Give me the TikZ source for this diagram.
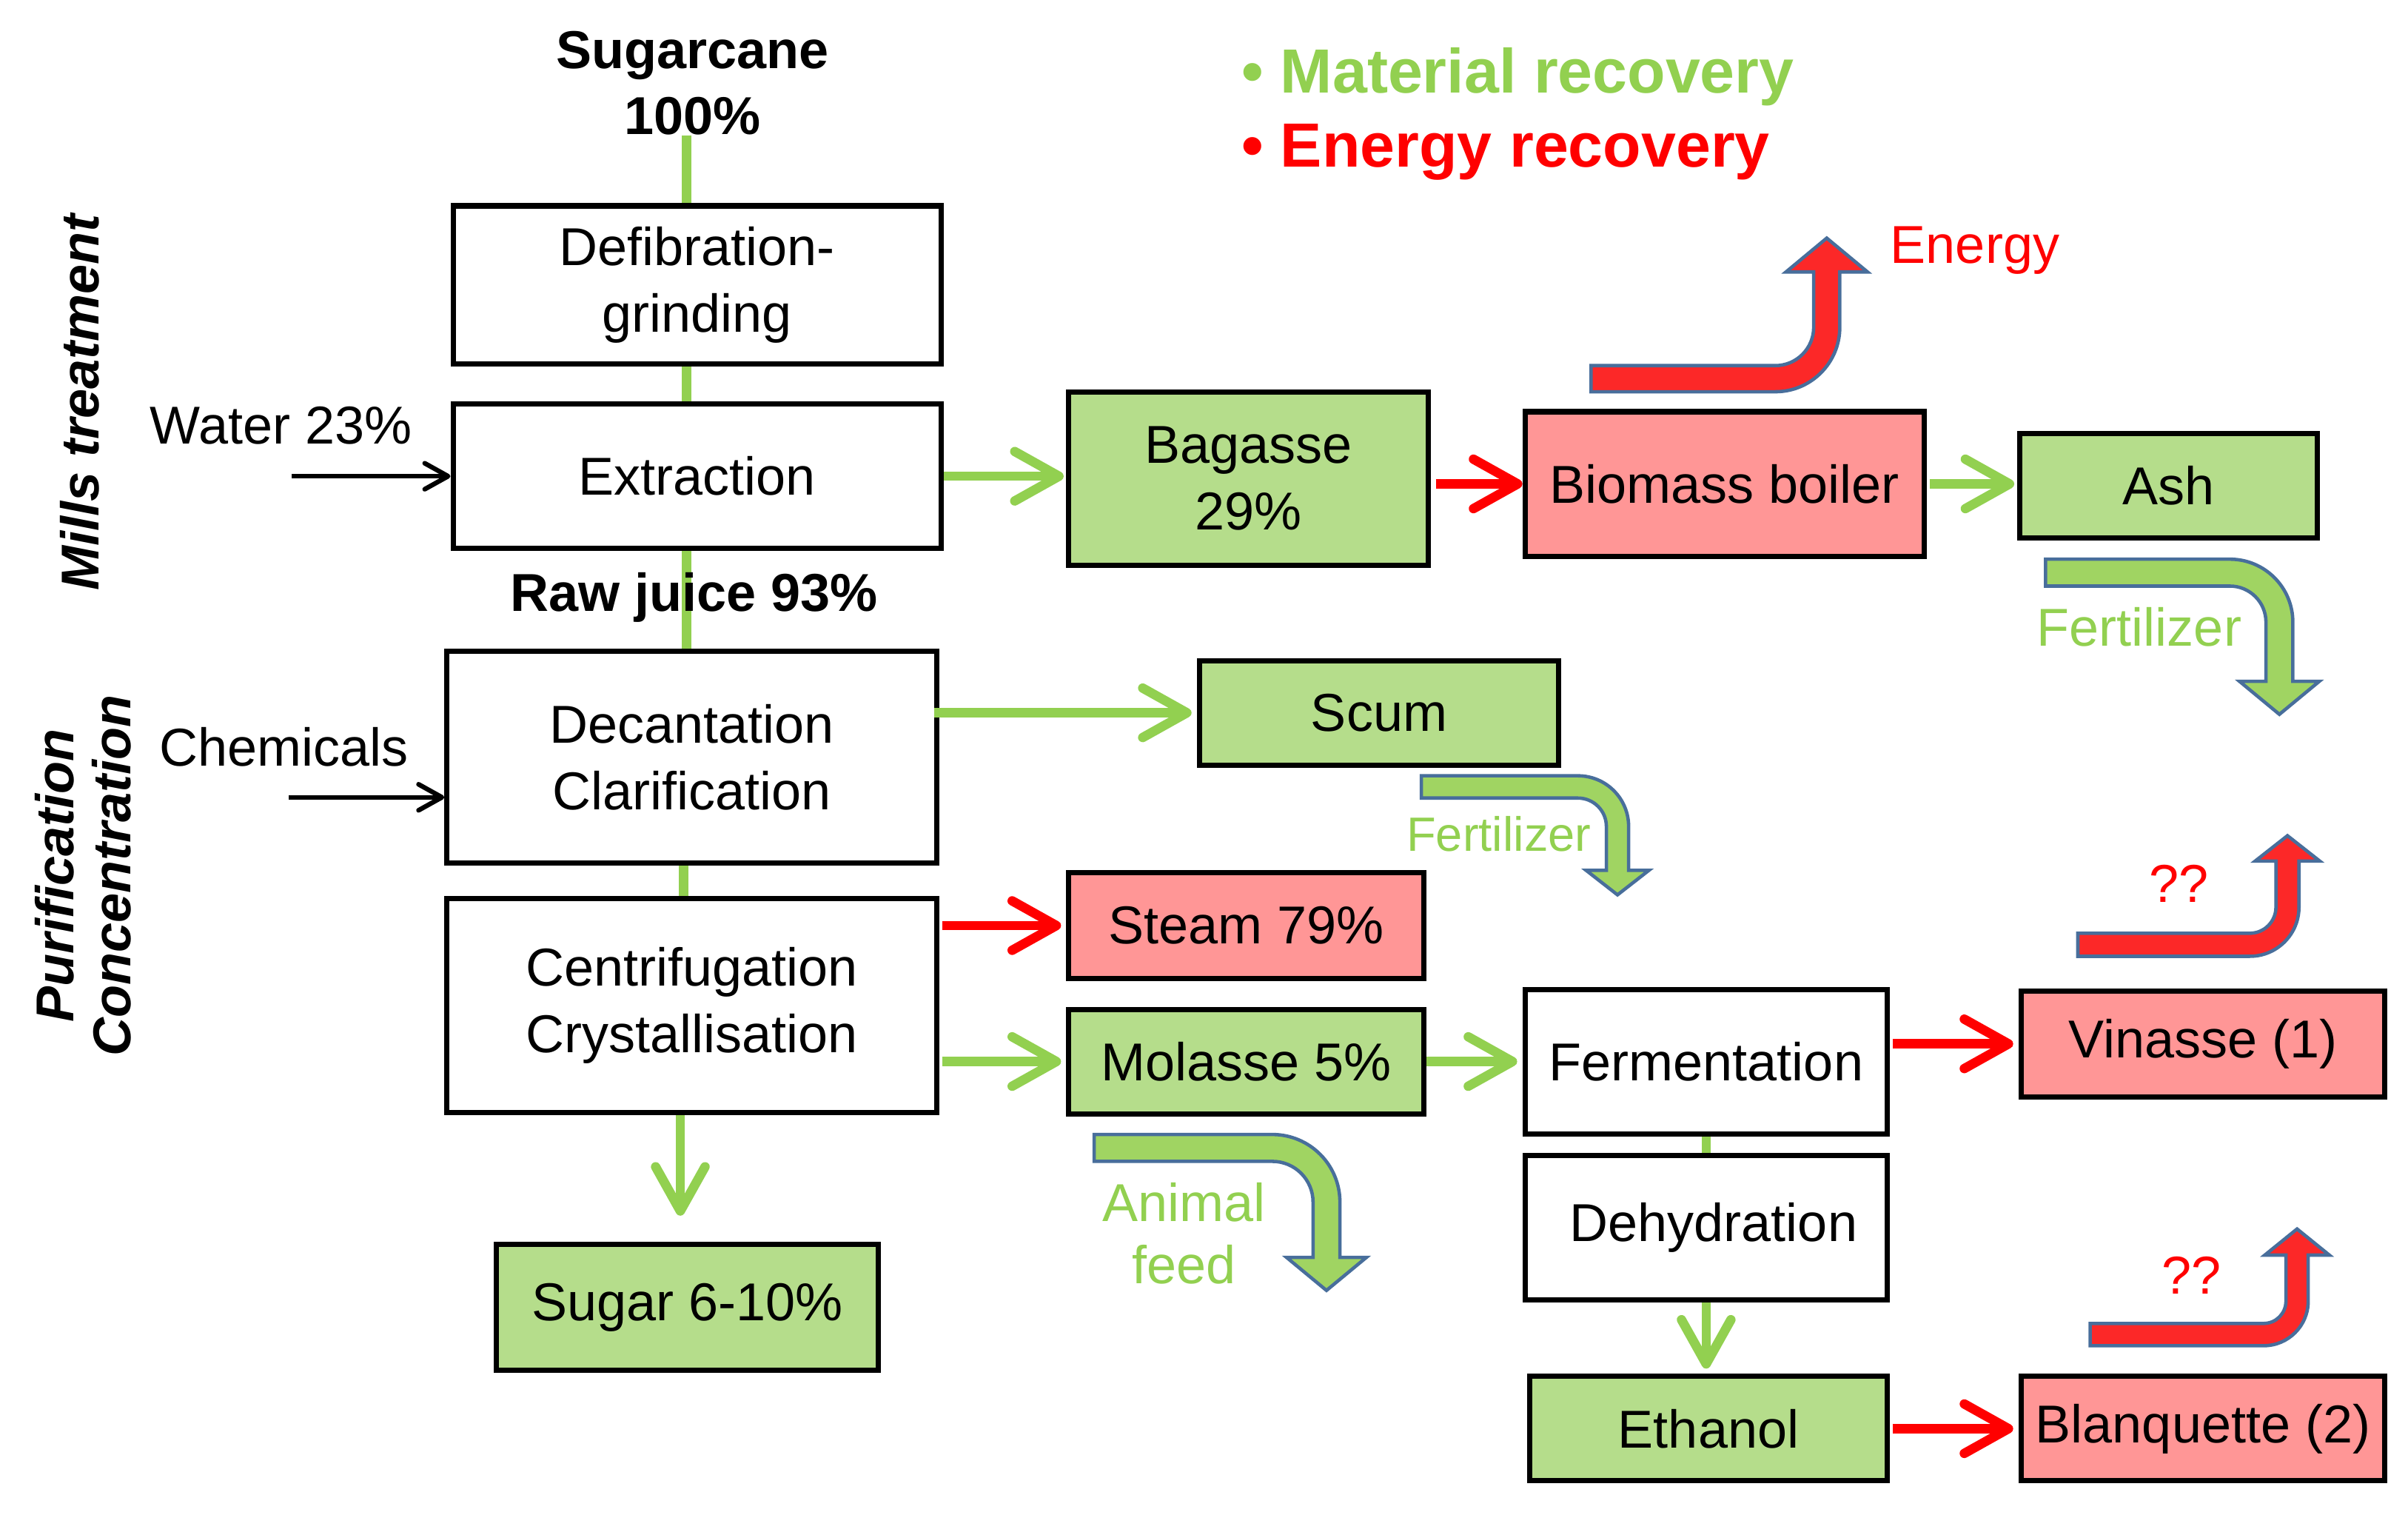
\documentclass[tikz,border=0pt]{standalone}
\usepackage{fontspec}
\setmainfont{Liberation Sans}
\usetikzlibrary{arrows.meta}
\definecolor{boxgreen}{RGB}{181,221,139}
\definecolor{boxred}{RGB}{255,150,150}
\definecolor{lgreen}{RGB}{146,208,80}
\definecolor{bgreen}{RGB}{160,212,98}
\definecolor{bred}{RGB}{252,40,40}
\definecolor{bblue}{RGB}{72,110,155}
\definecolor{pred}{RGB}{255,0,0}

% box from corners: name, style, x1, y1, x2, y2, text
\newcommand{\bx}[7]{%
  \node[#2, minimum width={(#5-#3)*0.020746cm}, minimum height={(#6-#4)*0.020746cm}]
    (#1) at ({(#3+#5)/2},{(#4+#6)/2}) {#7};}
% bent arrow turning up: x0, ybot, thickness, x outer, radius, ytip, head half width, head length, style
\newcommand{\bentup}[9]{%
  \draw[#9] (#1,#2) -- ({#4-#5},#2)
    .. controls ({#4-#5+0.5523*#5},#2) and (#4,{#2-#5+0.5523*#5}) .. (#4,{#2-#5})
    -- (#4,{#6+#8}) -- ({#4-#3/2+#7},{#6+#8}) -- ({#4-#3/2},#6)
    -- ({#4-#3/2-#7},{#6+#8}) -- ({#4-#3},{#6+#8}) -- ({#4-#3},{#2-#5})
    .. controls ({#4-#3},{#2-#5+0.5523*(#5-#3)}) and ({#4-#5+0.5523*(#5-#3)},{#2-#3}) .. ({#4-#5},{#2-#3})
    -- (#1,{#2-#3}) -- cycle;}
% bent arrow turning down: x0, ytop, thickness, x outer, radius, ytip, head half width, head length, style
\newcommand{\bentdown}[9]{%
  \draw[#9] (#1,#2) -- ({#4-#5},#2)
    .. controls ({#4-#5+0.5523*#5},#2) and (#4,{#2+#5-0.5523*#5}) .. (#4,{#2+#5})
    -- (#4,{#6-#8}) -- ({#4-#3/2+#7},{#6-#8}) -- ({#4-#3/2},#6)
    -- ({#4-#3/2-#7},{#6-#8}) -- ({#4-#3},{#6-#8}) -- ({#4-#3},{#2+#5})
    .. controls ({#4-#3},{#2+#5-0.5523*(#5-#3)}) and ({#4-#5+0.5523*(#5-#3)},{#2+#3}) .. ({#4-#5},{#2+#3})
    -- (#1,{#2+#3}) -- cycle;}

\begin{document}
\begin{tikzpicture}[x=0.020746cm, y=-0.020746cm,
  box/.style={draw, line width=2pt, inner sep=0pt, align=center, font=\fontsize{20.5}{25.5}\selectfont},
  gbox/.style={box, fill=boxgreen},
  rbox/.style={box, fill=boxred},
  lbl/.style={inner sep=0pt, align=center, font=\fontsize{20.5}{25.5}\selectfont},
  blbl/.style={inner sep=0pt, align=center, font=\bfseries\fontsize{20.5}{25.5}\selectfont},
  gline/.style={draw=lgreen, line width=3.6pt},
  garrow/.style={draw=lgreen, line width=3.6pt, -{Straight Barb[length=17pt,width=19pt,round]}},
  rarrow/.style={draw=pred, line width=3.6pt, -{Straight Barb[length=17pt,width=19pt,round]}},
  karrow/.style={draw=black, line width=1.8pt, -{Straight Barb[length=9pt,width=10pt,round]}},
  bentg/.style={fill=bgreen, draw=bblue, line width=1.3pt},
  bentr/.style={fill=bred, draw=bblue, line width=1.3pt},
]
\useasboundingbox (0,0) rectangle (1568,986);

% boxes
\bx{defib}{box}{295}{134}{613}{237}{Defibration-\\grinding}
\bx{extr}{box}{295}{263}{613}{357}{Extraction}
\bx{decant}{box}{291}{424}{610}{562}{Decantation\\Clarification}
\bx{centri}{box}{291}{585}{610}{724}{Centrifugation\\Crystallisation}
\bx{sugar}{gbox}{323}{810}{572}{892}{Sugar 6-10\%}
\bx{bagasse}{gbox}{696}{255}{930}{368}{Bagasse\\29\%}
\bx{biomass}{rbox}{993}{268}{1253}{362}{Biomass\ boiler}
\bx{ash}{gbox}{1315}{282}{1509}{350}{Ash}
\bx{scum}{gbox}{781}{430}{1015}{498}{Scum}
\bx{steam}{rbox}{696}{568}{927}{637}{Steam\ 79\%}
\bx{molasse}{gbox}{696}{657}{927}{725}{Molasse\ 5\%}
\bx{ferm}{box}{993}{644}{1229}{738}{Fermentation}
\bx{dehyd}{box}{993}{752}{1229}{846}{\ Dehydration}
\bx{ethanol}{gbox}{996}{896}{1229}{964}{Ethanol}
\bx{vinasse}{rbox}{1316}{645}{1553}{714}{Vinasse (1)}
\bx{blanq}{rbox}{1316}{896}{1553}{964}{Blanquette\ (2)}

% text labels
\node[blbl] (cane) at (451,54) {Sugarcane\\100\%};
\node[lbl] (water) at (183,277) {Water 23\%};
\node[lbl] (chem) at (185,486) {Chemicals};
\node[blbl, rotate=90, font=\bfseries\itshape\fontsize{20.5}{25.5}\selectfont] (mills) at (52,262) {Mills treatment};
\node[blbl, rotate=90, font=\bfseries\itshape\fontsize{20.5}{22}\selectfont] (purif) at (54,570) {Purification\\Concentration};
\node[inner sep=0pt, anchor=west, text=lgreen, font=\bfseries\fontsize{24}{28}\selectfont] (legm) at (808,50) {• Material recovery};
\node[inner sep=0pt, anchor=west, text=pred, font=\bfseries\fontsize{24}{28}\selectfont] (lege) at (808,99) {• Energy recovery};

% connectors
\coordinate (cx) at (447,88);
\coordinate (cx2) at (445,0);
\coordinate (cx3) at (443,0);
\draw[gline] (cx) -- (cx |- defib.north);
\draw[gline] (defib.south -| cx) -- (extr.north -| cx);
\draw[gline] (extr.south -| cx) -- (decant.north -| cx);
\node[blbl] (raw) at (452,389) {Raw juice 93\%};
\draw[gline] (decant.south -| cx2) -- (centri.north -| cx2);
\draw[garrow, shorten >=10pt] (centri.south -| cx3) -- (sugar.north -| cx3);

\coordinate (wst) at (190,310);
\coordinate (cst) at (188,519);
\draw[karrow] (wst) -- (extr.west |- wst);
\draw[karrow] (cst) -- (decant.west |- cst);

\draw[garrow, shorten >=1pt] (extr.east) -- (bagasse.west |- extr.east);
\draw[rarrow, shorten <=2pt] (bagasse.east |- biomass.west) -- (biomass.west);
\draw[garrow, shorten <=1pt, shorten >=1pt] (biomass.east) -- (ash.west |- biomass.east);
\draw[garrow, shorten <=-2pt, shorten >=2pt] (decant.east |- scum.west) -- (scum.west);
\draw[rarrow, shorten <=1pt, shorten >=2pt] (centri.east |- steam.west) -- (steam.west);
\draw[garrow, shorten <=1pt, shorten >=2pt] (centri.east |- molasse.west) -- (molasse.west);
\draw[garrow, shorten >=2pt] (molasse.east) -- (ferm.west |- molasse.east);
\draw[gline] (ferm.south) -- (dehyd.north);
\draw[garrow, shorten >=2pt] (dehyd.south) -- (ethanol.north -| dehyd.south);
\draw[rarrow, shorten <=1pt, shorten >=2pt] (ferm.east |- vinasse.west) -- (vinasse.west);
\draw[rarrow, shorten <=1pt, shorten >=2pt] (ethanol.east) -- (blanq.west |- ethanol.east);

% bent arrows
\bentup{1036}{255}{17}{1198}{42}{155}{26.5}{22}{bentr}
\bentup{1353}{622.5}{15}{1497}{32}{544}{21}{16.5}{bentr}
\bentup{1361}{876}{14.5}{1503}{29}{800}{21}{17}{bentr}
\bentdown{1332}{364}{17.5}{1493}{41}{465}{26}{21.5}{bentg}
\bentdown{925.5}{505}{14.5}{1060.5}{33}{582.5}{20.5}{16}{bentg}
\bentdown{712.5}{738.5}{17.5}{872.5}{44}{840}{26}{21.5}{bentg}

% labels of bent arrows
\node[lbl, text=pred] (energy) at (1286,163) {Energy};
\node[lbl, text=lgreen] (fert1) at (1393,408) {Fertilizer};
\node[lbl, text=lgreen, font=\fontsize{18.5}{22}\selectfont] (fert2) at (976,543) {Fertilizer};
\node[lbl, text=lgreen, font=\fontsize{20.5}{24}\selectfont] (feed) at (771,803) {Animal\\feed};
\node[lbl, text=pred] (q1) at (1419,575) {??};
\node[lbl, text=pred] (q2) at (1427,830) {??};
\end{tikzpicture}
\end{document}
